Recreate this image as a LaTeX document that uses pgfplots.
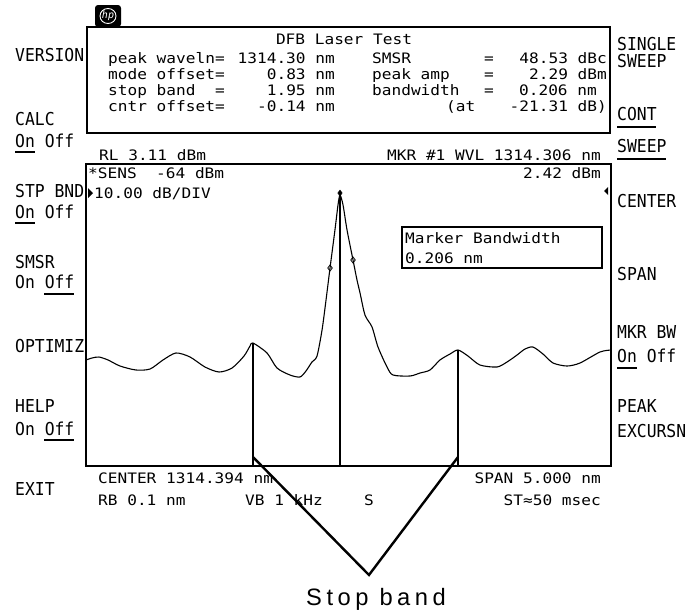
\documentclass[border=0pt]{standalone}
\usepackage{pgfplots}
\pgfplotsset{compat=1.18}
\usepackage{fontspec}
\setmainfont{DejaVu Sans Mono}
\newfontfamily\hp[FakeStretch=1.12]{DejaVu Sans Mono}
\newfontfamily\hpk[FakeStretch=0.92]{DejaVu Sans Mono}
\newfontfamily\lbl[LetterSpace=19]{Liberation Sans}

\tikzset{
  t/.style={font=\hp\fontsize{14.4}{14.4}\selectfont, inner sep=0pt, anchor=base west},
  te/.style={t, anchor=base east},
  k/.style={font=\hpk\fontsize{17.8}{17.8}\selectfont, inner sep=0pt, anchor=base west},
  ul/.style={line width=1.5pt},
}

\begin{document}
\begin{tikzpicture}
% screen in pixels, y down
\begin{scope}[x=1pt,y=-1pt]
\path (0,0) rectangle (688,614);

% hp logo
\fill[black, rounded corners=3pt] (95,5) rectangle (121,27);
\draw[white, line width=0.9pt] (108,16) ellipse (8 and 7.5);
\node[white, inner sep=0pt, font=\fontsize{10}{10}\selectfont\itshape] at (108,16) {hp};

% result box
\draw[line width=1.6pt] (87,27) rectangle (610,133);
\node[t, anchor=base] at (344,44) {DFB Laser Test};
\node[t] at (108,63) {peak waveln=};  \node[te] at (335,63) {1314.30 nm};
\node[t] at (108,79) {mode offset=};  \node[te] at (335,79) {0.83 nm};
\node[t] at (108,95) {stop band~~=};  \node[te] at (335,95) {1.95 nm};
\node[t] at (108,111) {cntr offset=}; \node[te] at (335,111) {-0.14 nm};
\node[t] at (372,63) {SMSR};      \node[t] at (484,63) {=}; \node[te] at (607,63) {48.53 dBc};
\node[t] at (372,79) {peak amp};  \node[t] at (484,79) {=}; \node[te] at (607,79) {2.29 dBm};
\node[t] at (372,95) {bandwidth}; \node[t] at (484,95) {=}; \node[te] at (597,95) {0.206 nm};
\node[t] at (446,111) {(at};      \node[te] at (607,111) {-21.31 dB)};

% annotations round the trace
\node[t] at (99,160) {RL 3.11 dBm};
\node[te] at (601,160) {MKR \#1 WVL 1314.306 nm};
\node[t] at (88,178) {*SENS~~-64 dBm};
\node[te] at (601,178) {2.42 dBm};
\fill (88,188) -- (93,193) -- (88,198) -- cycle;
\node[t] at (94,198) {10.00 dB/DIV};
\fill (608,187) -- (604,191) -- (608,195) -- cycle;
\draw[line width=1.5pt] (402,227) rectangle (602,268);
\node[t] at (405,243) {Marker Bandwidth};
\node[t] at (405,263) {0.206 nm};

\node[t] at (98,483) {CENTER 1314.394 nm};
\node[te] at (601,483) {SPAN 5.000 nm};
\node[t] at (98,505) {RB 0.1 nm};
\node[t] at (245,505) {VB 1 kHz};
\node[t] at (364,505) {S};
\node[te] at (601,505) {ST≈50 msec};

% softkeys, left
\node[k] at (15,61) {VERSION};
\node[k] at (15,125) {CALC};
\node[k] at (15,147) {On Off};  \draw[ul] (15,152) -- (35,152);
\node[k] at (15,197) {STP BND};
\node[k] at (15,218) {On Off};  \draw[ul] (15,223) -- (35,223);
\node[k] at (15,268) {SMSR};
\node[k] at (15,288) {On Off};  \draw[ul] (44,294) -- (74,294);
\node[k] at (15,352) {OPTIMIZ};
\node[k] at (15,412) {HELP};
\node[k] at (15,435) {On Off};  \draw[ul] (44,440) -- (74,440);
\node[k] at (15,495) {EXIT};

% softkeys, right
\node[k] at (617,50) {SINGLE};
\node[k] at (617,67) {SWEEP};
\node[k] at (617,120) {CONT};   \draw[ul] (617,127) -- (656,127);
\node[k] at (617,152) {SWEEP};  \draw[ul] (617,159) -- (666,159);
\node[k] at (617,207) {CENTER};
\node[k] at (617,280) {SPAN};
\node[k] at (617,338) {MKR BW};
\node[k] at (617,362) {On Off}; \draw[ul] (617,368) -- (637,368);
\node[k] at (617,412) {PEAK};
\node[k] at (617,437) {EXCURSN};

\node[inner sep=0pt, anchor=base, font=\lbl\fontsize{23.7}{23.7}\selectfont] at (376,605) {Stop band};
\end{scope}

\begin{axis}[
  at={(86pt,-164pt)}, anchor=north west,
  width=525pt, height=302pt, scale only axis,
  xmin=1311.894, xmax=1316.894,
  ymin=-96.89, ymax=3.11,
  xtick=\empty, ytick=\empty,
  axis line style={line width=1.6pt},
  clip=false,
]
% measured trace, wavelength (nm) vs power (dBm)
\addplot[black, line width=1.1pt, smooth, tension=0.45] coordinates {
(1311.894,-61.79) (1311.951,-61.13) (1312.018,-60.80) (1312.104,-61.79)
(1312.218,-63.78) (1312.370,-65.10) (1312.504,-64.77) (1312.627,-61.79)
(1312.751,-59.47) (1312.885,-60.80) (1313.027,-64.11) (1313.161,-65.76)
(1313.285,-64.44) (1313.399,-60.47) (1313.456,-57.16) (1313.484,-56.16)
(1313.618,-59.47) (1313.713,-64.44) (1313.837,-66.76) (1313.932,-67.42)
(1313.989,-65.43) (1314.046,-62.45) (1314.094,-60.47) (1314.142,-51.86)
(1314.180,-41.92) (1314.218,-31.33) (1314.265,-18.74) (1314.294,-10.47)
(1314.313,-7.15) (1314.342,-10.47) (1314.380,-18.74) (1314.437,-28.68)
(1314.475,-35.30) (1314.504,-39.61) (1314.551,-46.89) (1314.618,-50.86)
(1314.675,-57.49) (1314.761,-64.11) (1314.818,-66.76) (1314.980,-67.09)
(1315.075,-66.10) (1315.170,-65.10) (1315.265,-61.79) (1315.361,-59.80)
(1315.437,-58.48) (1315.532,-60.47) (1315.646,-63.45) (1315.808,-64.11)
(1315.904,-62.45) (1315.999,-60.14) (1316.075,-58.15) (1316.151,-57.49)
(1316.246,-59.80) (1316.342,-62.78) (1316.475,-63.78) (1316.599,-62.78)
(1316.789,-59.14) (1316.894,-58.48)
};
% stop band edges and centre
\addplot[black, line width=1.1pt] coordinates {(1313.484,-56.16) (1313.484,-77.35)};
\addplot[black, line width=2.6pt] coordinates {(1313.484,-77.35) (1313.484,-96.89)};
\addplot[black, line width=1.1pt] coordinates {(1314.313,-7.15) (1314.313,-52.52)};
\addplot[black, line width=2.6pt] coordinates {(1314.313,-52.52) (1314.313,-96.89)};
\addplot[black, line width=1.1pt] coordinates {(1315.437,-58.48) (1315.437,-77.68)};
\addplot[black, line width=2.6pt] coordinates {(1315.437,-77.68) (1315.437,-96.89)};
% stop band pointer
\addplot[black, line width=2.4pt, line join=miter] coordinates {
(1313.484,-93.91) (1314.589,-132.98) (1315.437,-93.91)};
% markers
\addplot[black, only marks, mark=diamond, mark size=3pt, line width=0.8pt] coordinates {
(1314.218,-31.33) (1314.437,-28.68)};
\addplot[black, only marks, mark=diamond*, mark size=3pt] coordinates {(1314.313,-6.5)};
\end{axis}
\end{tikzpicture}
\end{document}
